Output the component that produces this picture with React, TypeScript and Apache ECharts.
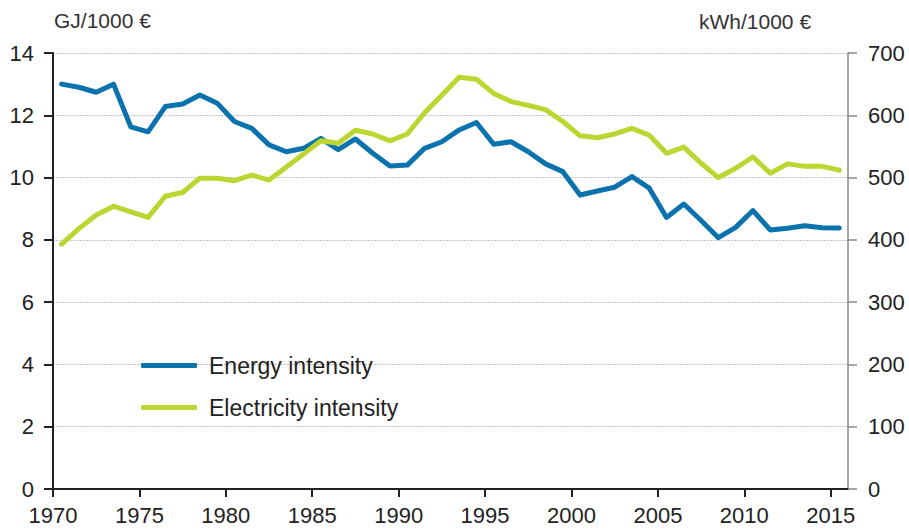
import React, { useEffect, useRef } from "react";
import * as echarts from "echarts";

const years: number[] = [
  1970, 1971, 1972, 1973, 1974, 1975, 1976, 1977, 1978, 1979,
  1980, 1981, 1982, 1983, 1984, 1985, 1986, 1987, 1988, 1989,
  1990, 1991, 1992, 1993, 1994, 1995, 1996, 1997, 1998, 1999,
  2000, 2001, 2002, 2003, 2004, 2005, 2006, 2007, 2008, 2009,
  2010, 2011, 2012, 2013, 2014, 2015,
];

// GJ / 1000 €
const energyIntensity: number[] = [
  13.0, 12.9, 12.74, 13.0, 11.63, 11.47, 12.28, 12.36, 12.65, 12.39,
  11.8, 11.58, 11.05, 10.83, 10.94, 11.26, 10.9, 11.24, 10.78, 10.37,
  10.4, 10.94, 11.15, 11.53, 11.77, 11.07, 11.15, 10.83, 10.44, 10.19,
  9.44, 9.57, 9.69, 10.03, 9.66, 8.72, 9.15, 8.62, 8.07, 8.4,
  8.94, 8.32, 8.37, 8.45, 8.39, 8.38,
];

// kWh / 1000 €
const electricityIntensity: number[] = [
  393, 418, 440, 454, 445, 436, 470, 476, 499, 499,
  495, 504, 496, 517, 538, 559, 555, 576, 570, 559,
  570, 604, 632, 661, 658, 635, 622, 616, 609, 590,
  567, 564, 570, 579, 568, 539, 549, 523, 500, 515,
  533, 507, 522, 518, 518, 512,
];

const xTickLabels: number[] = [1970, 1975, 1980, 1985, 1990, 1995, 2000, 2005, 2010, 2015];
const seriesNames: string[] = ["Energy intensity", "Electricity intensity"];
const leftUnit = "GJ/1000 €";
const rightUnit = "kWh/1000 €";

const FONT = "'Liberation Sans', Arial, sans-serif";

export default function App() {
  const ref = useRef<HTMLDivElement>(null);

  useEffect(() => {
    if (!ref.current) return;
    const chart = echarts.init(ref.current, null, { renderer: "svg" });
    const energyData = years.map((y, i) => [y + 0.5, energyIntensity[i]]);
    const elecData = years.map((y, i) => [y + 0.5, electricityIntensity[i]]);

    chart.setOption({
      animation: false,
      backgroundColor: "#ffffff",
      textStyle: { fontFamily: FONT },
      grid: { left: 53, right: 61, top: 53, bottom: 40, containLabel: false },
      graphic: [
        {
          type: "text",
          left: 54,
          top: 10,
          style: { text: leftUnit, font: `21px ${FONT}`, fill: "#333333" },
        },
        {
          type: "text",
          left: 699,
          top: 11,
          style: { text: rightUnit, font: `21px ${FONT}`, fill: "#333333" },
        },
      ],
      legend: {
        orient: "vertical",
        left: 136,
        top: 349,
        icon: "roundRect",
        itemWidth: 56,
        itemHeight: 5,
        itemGap: 19,
        data: seriesNames,
        textStyle: {
          fontSize: 23,
          color: "#222222",
          fontFamily: FONT,
          lineHeight: 23,
          padding: [0, 0, 0, 7],
        },
      },
      xAxis: {
        type: "value",
        min: 1970,
        max: 2016,
        interval: 5,
        axisLine: { show: true, lineStyle: { color: "#222222", width: 2 } },
        axisTick: {
          show: true,
          length: 8,
          inside: false,
          customValues: xTickLabels,
          lineStyle: { color: "#222222", width: 2 },
        },
        axisLabel: {
          customValues: xTickLabels,
          fontSize: 22,
          color: "#222222",
          margin: 15,
          fontFamily: FONT,
          formatter: (v: number) => String(v),
        },
        splitLine: { show: false },
      },
      yAxis: [
        {
          type: "value",
          min: 0,
          max: 14,
          interval: 2,
          position: "left",
          axisLine: { show: true, lineStyle: { color: "#222222", width: 2 } },
          axisTick: { show: true, length: 9, lineStyle: { color: "#222222", width: 2 } },
          axisLabel: { fontSize: 22, color: "#222222", margin: 19, fontFamily: FONT },
          splitLine: {
            show: true,
            lineStyle: { color: "#c4c4c4", width: 1.2, type: [2, 1] },
          },
        },
        {
          type: "value",
          min: 0,
          max: 700,
          interval: 100,
          position: "right",
          axisLine: { show: true, lineStyle: { color: "#888888", width: 1.5 } },
          axisTick: { show: true, length: 9, lineStyle: { color: "#888888", width: 1.5 } },
          axisLabel: { fontSize: 22, color: "#222222", margin: 20, fontFamily: FONT },
          splitLine: { show: false },
        },
      ],
      series: [
        {
          name: seriesNames[0],
          type: "line",
          yAxisIndex: 0,
          data: energyData,
          symbol: "none",
          lineStyle: { color: "#0a73ae", width: 5, cap: "round", join: "round" },
          itemStyle: { color: "#0a73ae" },
        },
        {
          name: seriesNames[1],
          type: "line",
          yAxisIndex: 1,
          data: elecData,
          symbol: "none",
          lineStyle: { color: "#bcd530", width: 5, cap: "round", join: "round" },
          itemStyle: { color: "#bcd530" },
        },
      ],
    });

    return () => chart.dispose();
  }, []);

  return (
    <div
      ref={ref}
      style={{ position: "fixed", left: 0, top: 0, width: 909, height: 529 }}
    />
  );
}
